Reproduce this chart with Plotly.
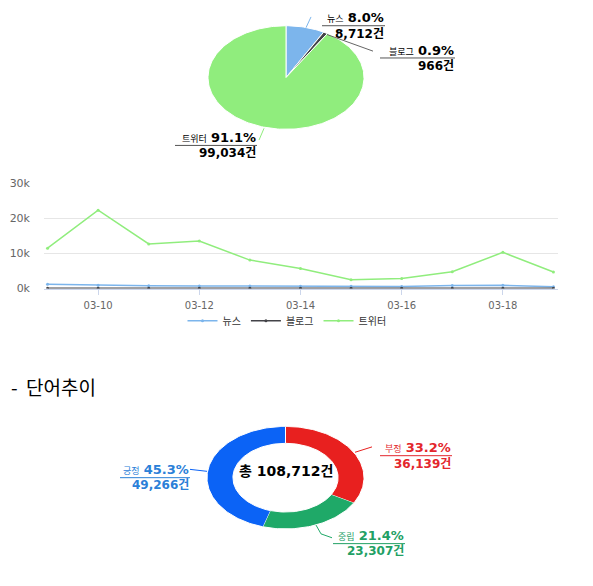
import numpy as np
import plotly.graph_objects as go

W, H = 593, 586
OFF = 8  # default page margin around the plot div
FW, FH = W - 2 * OFF, H - 2 * OFF

# daily mentions by source
dates = ["03-09", "03-10", "03-11", "03-12", "03-13", "03-14",
         "03-15", "03-16", "03-17", "03-18", "03-19"]
news = [1250, 950, 800, 750, 700, 650, 650, 600, 900, 950, 512]
blog = [120, 90, 80, 85, 90, 95, 70, 75, 90, 100, 71]
twitter = [11500, 22300, 12700, 13500, 8100, 5700, 2500, 2900, 4800, 10300, 4734]

source_names = ["뉴스", "블로그", "트위터"]
source_totals = [8712, 966, 99034]
source_colors = ["#7cb5ec", "#434348", "#90ed7d"]

sent_names = ["부정", "중립", "긍정"]
sent_totals = [36139, 23307, 49266]
sent_colors = ["#e8201f", "#1fa968", "#0b63f6"]
sent_text_colors = ["#e3262c", "#22a064", "#2a80d8"]

FONT = "DejaVu Sans, Noto Sans CJK KR, sans-serif"
KFONT = "Noto Sans CJK KR, sans-serif"


def px(x, y):
    # window pixel -> paper fraction
    return (x - OFF) / FW, 1 - (y - OFF) / FH


def xdom(a, b):
    return [px(a, 0)[0], px(b, 0)[0]]


def ydom(top, bottom):
    return [px(0, bottom)[1], px(0, top)[1]]


def slice_polys(values, inner=0.0):
    total = float(sum(values))
    start = 0.0
    out = []
    for v in values:
        end = start + v / total
        t = np.linspace(start, end, max(4, int(240 * (end - start)))) * 2 * np.pi
        xs, ys = list(np.sin(t)), list(np.cos(t))
        if inner > 0:
            xs += list(inner * np.sin(t[::-1]))
            ys += list(inner * np.cos(t[::-1]))
        else:
            xs = [0] + xs + [0]
            ys = [0] + ys + [0]
        out.append((xs, ys))
        start = end
    return out


fig = go.Figure()

# line chart
line_series = [news, blog, twitter]
for name, vals, col in zip(source_names, line_series, source_colors):
    fig.add_trace(go.Scatter(x=dates, y=vals, name=name, mode="lines+markers",
                             line=dict(color=col, width=1.5),
                             marker=dict(size=3, color=col),
                             xaxis="x", yaxis="y"))

# source pie (ellipse)
for (xs, ys), col in zip(slice_polys(source_totals), source_colors):
    fig.add_trace(go.Scatter(x=xs, y=ys, fill="toself", fillcolor=col, mode="lines",
                             line=dict(color="white", width=1), hoverinfo="skip",
                             showlegend=False, xaxis="x2", yaxis="y2"))

# sentiment donut
for (xs, ys), col in zip(slice_polys(sent_totals, inner=0.67), sent_colors):
    fig.add_trace(go.Scatter(x=xs, y=ys, fill="toself", fillcolor=col, mode="lines",
                             line=dict(color="white", width=1), hoverinfo="skip",
                             showlegend=False, xaxis="x3", yaxis="y3"))

hidden = dict(visible=False, range=[-1, 1], fixedrange=True)

fig.update_layout(
    width=FW, height=FH, margin=dict(l=0, r=0, t=0, b=0),
    paper_bgcolor="white", plot_bgcolor="white",
    font=dict(family=FONT, color="#333"),
    xaxis=dict(domain=xdom(44, 558), type="category", categoryorder="array",
               categoryarray=dates, range=[-0.07, 10.09], tickvals=dates[1::2],
               showgrid=False, showline=True, linecolor="#ccd6eb", ticks="outside",
               ticklen=5, tickcolor="#ccd6eb", tickfont=dict(size=10, color="#666"),
               ticklabelstandoff=2, anchor="y"),
    yaxis=dict(domain=ydom(181, 289), range=[0, 30000],
               tickvals=[0, 10000, 20000, 30000], ticktext=["0k", "10k", "20k", "30k"],
               gridcolor="#e6e6e6", zeroline=False, tickfont=dict(size=11, color="#666"),
               ticklabelstandoff=13, anchor="x"),
    xaxis2=dict(domain=xdom(208, 364), anchor="y2", **hidden),
    yaxis2=dict(domain=ydom(20, 126), anchor="x2", **hidden),
    xaxis3=dict(domain=xdom(207, 364), anchor="y3", **hidden),
    yaxis3=dict(domain=ydom(430, 535), anchor="x3", **hidden),
    legend=dict(orientation="h", x=px(287, 0)[0], xanchor="center", y=px(0, 322)[1],
                yanchor="middle", font=dict(size=10, color="#333", family=KFONT),
                bgcolor="rgba(0,0,0,0)", itemwidth=30, tracegroupgap=0),
    showlegend=True,
)

# slice labels: (right edge, underline y, underline left, connector points)
pie_label_pos = [
    (385, 20, 322, [(306, 22), (311, 11)]),
    (455, 53, 380, [(327, 29), (373, 46)]),
    (257, 142.5, 175, [(264, 125), (259, 137)]),
]
donut_label_pos = [
    (452, 460, 380, [(355, 456.5), (372, 451)]),
    (405, 550, 333, [(316, 531), (321, 540), (332, 544)]),
    (190, 482.5, 120, [(190, 474), (207, 476)]),
]


def add_label(name, value, total, pos, text_col, line_col, conn_col):
    right, uy, left, conn = pos
    pct = value / total * 100
    x, y1 = px(right, uy - 8)
    _, y2 = px(right, uy + 8)
    fig.add_annotation(x=x, y=y1, xref="paper", yref="paper", xanchor="right",
                       yanchor="middle", showarrow=False, borderpad=0,
                       text=f"<span style='font-size:9px'>{name}</span> <b>{pct:.1f}%</b>",
                       font=dict(size=13, color=text_col, family=FONT))
    fig.add_annotation(x=x, y=y2, xref="paper", yref="paper", xanchor="right",
                       yanchor="middle", showarrow=False, borderpad=0,
                       text=f"<b>{value:,}건</b>",
                       font=dict(size=12, color=text_col, family=FONT))
    x0, y0 = px(left, uy)
    x1, yu = px(right, uy)
    fig.add_shape(type="line", xref="paper", yref="paper", x0=x0, y0=y0, x1=x1, y1=yu,
                  line=dict(color=line_col, width=1))
    pts = [px(a, b) for a, b in conn]
    path = "M " + " L ".join(f"{a},{b}" for a, b in pts)
    fig.add_shape(type="path", xref="paper", yref="paper", path=path,
                  line=dict(color=conn_col, width=1))


src_total = sum(source_totals)
conn_cols = ["#7cb5ec", "#666666", "#90ed7d"]
for i in range(3):
    add_label(source_names[i], source_totals[i], src_total, pie_label_pos[i],
              "#000000", "#555555", conn_cols[i])

sent_total = sum(sent_totals)
for i in range(3):
    add_label(sent_names[i], sent_totals[i], sent_total, donut_label_pos[i],
              sent_text_colors[i], sent_text_colors[i], sent_colors[i])

cx, cy = px(285.5, 486)
fig.add_annotation(x=cx, y=cy, xref="paper", yref="paper", showarrow=False,
                   text=f"<b>총 {sent_total:,}건</b>",
                   font=dict(size=14, color="#000000", family=FONT))

# section header
hx, hy = px(9, 389)
fig.add_annotation(x=hx, y=hy, xref="paper", yref="paper", xanchor="left",
                   yanchor="middle", showarrow=False, text="-  단어추이",
                   font=dict(size=19, color="#000", family=KFONT))

fig.write_html("out.html")
